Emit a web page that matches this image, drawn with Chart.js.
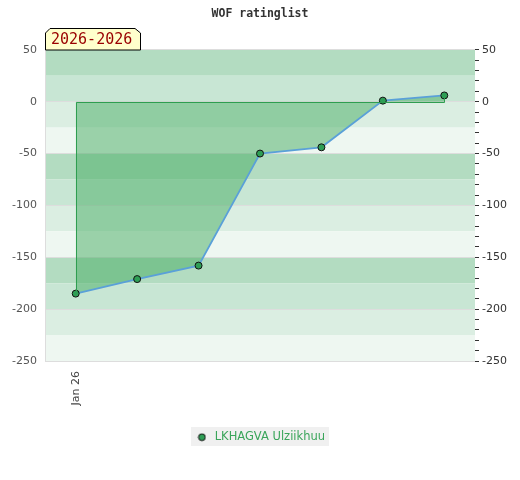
<!DOCTYPE html>
<html>
<head>
<meta charset="utf-8">
<script src="https://cdn.jsdelivr.net/npm/chart.js@4/dist/chart.umd.min.js"></script>
<style>
  html, body { margin: 0; padding: 0; background: #fff; }
  #wrap { width: 520px; height: 480px; }
</style>
</head>
<body>
<div id="wrap"><canvas id="myChart" width="520" height="480"></canvas></div>
<script>
// data
var dateLabels = ['Jan 26', '', '', '', '', '', ''];
var ratingValues = [-185, -171, -158, -50, -44, 1, 6];
var playerName = 'LKHAGVA Ulziikhuu';
var periodText = '2026-2026';
var yMin = -250, yMax = 50;
var bandColors = ['#b3dcc1', '#c8e6d4', '#dbeee2', '#eef7f1'];

// small dot used as the legend marker
var legendDot = document.createElement('canvas');
legendDot.width = 9;
legendDot.height = 9;
(function() {
    var c = legendDot.getContext('2d');
    c.beginPath();
    c.arc(4.5, 4.5, 3.4, 0, Math.PI * 2);
    c.fillStyle = '#2e9e55';
    c.fill();
    c.strokeStyle = '#111';
    c.lineWidth = 1;
    c.stroke();
})();

// stripes every 25 behind the plot
var bandsPlugin = {
    id: 'bands',
    beforeDraw: function(chart) {
        var ctx = chart.ctx, a = chart.chartArea, y = chart.scales.y;
        ctx.save();
        var i = 0;
        for (var v = yMax; v > yMin; v -= 25) {
            var top = y.getPixelForValue(v), bot = y.getPixelForValue(v - 25);
            ctx.fillStyle = bandColors[i % 4];
            ctx.fillRect(a.left, top, a.right - a.left, bot - top);
            i++;
        }
        // legend background
        var lg = chart.legend;
        if (lg && lg.legendHitBoxes && lg.legendHitBoxes.length) {
            var b = lg.legendHitBoxes[0];
            ctx.fillStyle = '#f0f0f0';
            ctx.fillRect(Math.round(b.left) - 4, Math.round(b.top + b.height / 2) - 10, Math.round(b.width) + 8, 19);
        }
        ctx.restore();
    }
};

// green outline round the filled area + period label
var outlinePlugin = {
    id: 'outline',
    afterDatasetsDraw: function(chart) {
        var ctx = chart.ctx, pts = chart.getDatasetMeta(0).data;
        var zero = chart.scales.y.getPixelForValue(0);
        var first = pts[0], last = pts[pts.length - 1];
        ctx.save();
        ctx.strokeStyle = '#2e9e50';
        ctx.lineWidth = 1;
        ctx.beginPath();
        ctx.moveTo(Math.round(first.x) + 0.5, first.y);
        ctx.lineTo(Math.round(first.x) + 0.5, Math.round(zero) + 0.5);
        ctx.lineTo(Math.round(last.x) + 0.5, Math.round(zero) + 0.5);
        ctx.lineTo(Math.round(last.x) + 0.5, last.y);
        ctx.stroke();
        ctx.restore();
    },
    afterDraw: function(chart) {
        var ctx = chart.ctx, a = chart.chartArea;
        var l = Math.round(a.left), b = Math.round(a.top), w = 95, h = 22, c = 5;
        ctx.save();
        ctx.beginPath();
        ctx.moveTo(l + 0.5, b);
        ctx.lineTo(l + 0.5, b - h + c);
        ctx.lineTo(l + c, b - h + 0.5);
        ctx.lineTo(l + w - c, b - h + 0.5);
        ctx.lineTo(l + w + 0.5, b - h + c);
        ctx.lineTo(l + w + 0.5, b);
        ctx.closePath();
        ctx.fillStyle = '#ffffcc';
        ctx.fill();
        ctx.strokeStyle = '#000';
        ctx.lineWidth = 1;
        ctx.stroke();
        ctx.fillStyle = '#990000';
        ctx.font = '15px "DejaVu Sans Mono"';
        ctx.textBaseline = 'middle';
        ctx.fillText(periodText, l + 6, b - h / 2 + 1);
        ctx.restore();
    }
};

var ctx = document.getElementById('myChart');
var myChart = new Chart(ctx, {
    type: 'line',
    data: {
        labels: dateLabels,
        datasets: [{
            label: playerName,
            data: ratingValues,
            fill: 'origin',
            backgroundColor: 'rgba(70,172,98,0.5)',
            borderColor: '#5aa0d8',
            borderWidth: 1.8,
            tension: 0,
            pointRadius: 3.5,
            pointBackgroundColor: '#2e9e55',
            pointBorderColor: '#111',
            pointBorderWidth: 1
        }]
    },
    options: {
        responsive: false,
        animation: false,
        layout: { padding: { left: 8, right: 8, bottom: 27 } },
        plugins: {
            title: {
                display: true,
                text: 'WOF ratinglist',
                color: '#333',
                font: { family: 'DejaVu Sans Mono', size: 11.5, weight: 'bold' },
                padding: { top: 7, bottom: 29 }
            },
            legend: {
                position: 'bottom',
                labels: {
                    usePointStyle: true,
                    pointStyleWidth: 14,
                    boxHeight: 9,
                    color: '#3aa55a',
                    font: { family: 'DejaVu Sans', size: 11.5 },
                    padding: 24,
                    generateLabels: function(chart) {
                        var items = Chart.defaults.plugins.legend.labels.generateLabels(chart);
                        items.forEach(function(it) { it.pointStyle = legendDot; });
                        return items;
                    }
                }
            },
            tooltip: { enabled: false }
        },
        scales: {
            x: {
                offset: true,
                grid: { display: false },
                border: { display: false },
                ticks: {
                    autoSkip: false,
                    maxRotation: 90,
                    minRotation: 90,
                    padding: 2,
                    color: '#444',
                    font: { family: 'DejaVu Sans', size: 11 }
                }
            },
            y: {
                min: yMin,
                max: yMax,
                afterFit: function(scale) { scale.width = 37; },
                ticks: {
                    stepSize: 50,
                    color: '#555',
                    padding: 8,
                    font: { family: 'DejaVu Sans', size: 11 }
                },
                grid: { color: '#dddddd', drawTicks: false },
                border: { display: true, color: '#dddddd' }
            },
            y2: {
                position: 'right',
                min: yMin,
                max: yMax,
                afterFit: function(scale) { scale.width = 37; },
                ticks: {
                    stepSize: 10,
                    autoSkip: false,
                    color: '#333',
                    padding: 3,
                    font: { family: 'DejaVu Sans', size: 11 },
                    callback: function(v) { return v % 50 === 0 ? v : ''; }
                },
                grid: { drawOnChartArea: false, tickLength: 4, color: '#333' },
                border: { display: false }
            }
        }
    },
    plugins: [bandsPlugin, outlinePlugin]
});
</script>
</body>
</html>
